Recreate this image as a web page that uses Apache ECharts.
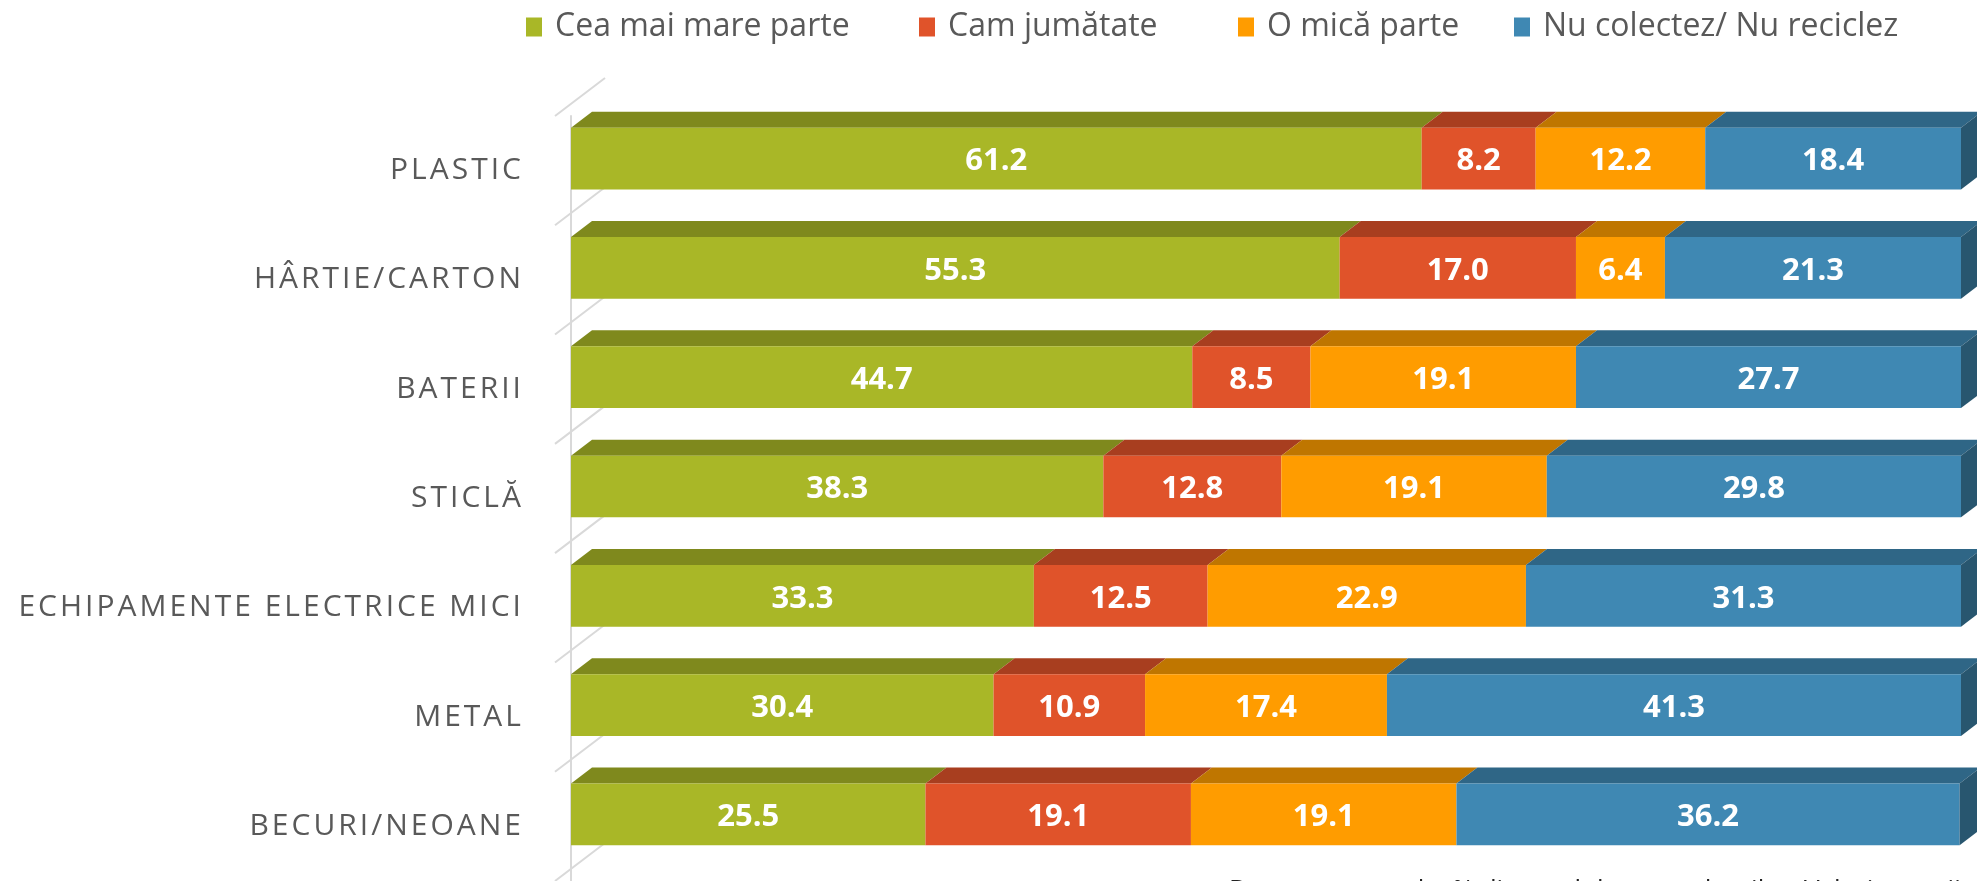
<!DOCTYPE html>
<html>
<head>
<meta charset="utf-8">
<script src="https://cdn.jsdelivr.net/npm/echarts@6/dist/echarts.min.js"></script>
<style>
  html, body { margin: 0; padding: 0; background: #fff; }
  #chart { width: 1977px; height: 881px; }
</style>
</head>
<body>
<div id="chart"></div>
<script>
// data (percentages)
const categories = ['PLASTIC', 'HÂRTIE/CARTON', 'BATERII', 'STICLĂ', 'ECHIPAMENTE ELECTRICE MICI', 'METAL', 'BECURI/NEOANE'];
const seriesNames = ['Cea mai mare parte', 'Cam jumătate', 'O mică parte', 'Nu colectez/ Nu reciclez'];
const mostPart = [61.2, 55.3, 44.7, 38.3, 33.3, 30.4, 25.5];
const halfPart = [8.2, 17.0, 8.5, 12.8, 12.5, 10.9, 19.1];
const smallPart = [12.2, 6.4, 19.1, 19.1, 22.9, 17.4, 19.1];
const noneRecycle = [18.4, 21.3, 27.7, 29.8, 31.3, 41.3, 36.2];
const footnote = 'Date procentuale, % din totalul respondenților. Valori rotunjite';

const frontColors = ['#a9b727', '#e0532a', '#ff9c00', '#3f88b3'];
const topColors = ['#7f891d', '#a83e1f', '#bf7600', '#2f6686'];
const sideColor = '#28566f';
const DX = 21, DY = 16; // 3d depth of the boxes

// the category labels are letter-spaced; echarts has no option for it,
// so add it on the canvas for the font used only by those labels
const origFill = CanvasRenderingContext2D.prototype.fillText;
CanvasRenderingContext2D.prototype.fillText = function (t, x, y, w) {
  if (!('letterSpacing' in this)) return origFill.call(this, t, x, y, w);
  const f = this.font;
  const spacing = f.indexOf('Lato') >= 0 ? '3px' : '0px';
  if (this.letterSpacing !== spacing) {
    this.letterSpacing = spacing;
    this.font = f;
  }
  origFill.call(this, t, x, y, w);
  if (spacing !== '0px') {
    this.letterSpacing = '0px';
    this.font = f;
  }
};

const chart = echarts.init(document.getElementById('chart'));

const allValues = [mostPart, halfPart, smallPart, noneRecycle];

// build [catIndex, start, end, value] rows for each stacked segment
const segData = allValues.map((vals, si) => vals.map((v, ci) => {
  let start = 0;
  for (let k = 0; k < si; k++) start += allValues[k][ci];
  return [ci, start, start + v, v];
}));

function makeRender(si) {
  const isLast = si === allValues.length - 1;
  return function (params, api) {
    const ci = api.value(0);
    const p0 = api.coord([api.value(1), ci]);
    const p1 = api.coord([api.value(2), ci]);
    const band = api.size([0, 1])[1];
    const h = band * 0.565;
    const cy = p0[1] - 12;
    const top = cy - h / 2, bot = cy + h / 2;
    const x0 = p0[0], x1 = p1[0];
    const children = [
      {
        type: 'polygon',
        shape: { points: [[x0, top], [x1, top], [x1 + DX, top - DY], [x0 + DX, top - DY]] },
        style: { fill: topColors[si] }
      },
      {
        type: 'rect',
        shape: { x: x0, y: top, width: x1 - x0, height: h },
        style: { fill: frontColors[si] }
      },
      {
        type: 'text',
        style: {
          text: api.value(3).toFixed(1),
          x: (x0 + x1) / 2, y: cy + 3,
          align: 'center', verticalAlign: 'middle',
          fill: '#fff', fontSize: 31, fontWeight: 'bold', fontFamily: 'Open Sans'
        }
      }
    ];
    if (isLast) {
      children.push({
        type: 'polygon',
        shape: { points: [[x1, top], [x1 + DX, top - DY], [x1 + DX, bot - DY], [x1, bot]] },
        style: { fill: sideColor }
      });
    }
    return { type: 'group', children: children };
  };
}

// diagonal lines of the left wall, one per category boundary
function renderWall(params, api) {
  const ci = api.value(0);
  const c = api.coord([0, ci]);
  const band = api.size([0, 1])[1];
  const x = c[0] - 16;
  const lines = [c[1] - band / 2];
  if (ci === categories.length - 1) lines.push(c[1] + band / 2);
  return {
    type: 'group',
    children: lines.map(y => ({
      type: 'line',
      shape: { x1: x, y1: y, x2: x + 50, y2: y - 38 },
      style: { stroke: '#d9d9d9', lineWidth: 2 }
    }))
  };
}

const legendLefts = [521, 914, 1233, 1509];

const series = allValues.map((vals, si) => ({
  name: seriesNames[si],
  type: 'custom',
  renderItem: makeRender(si),
  encode: { x: [1, 2], y: 0 },
  itemStyle: { color: frontColors[si] },
  data: segData[si],
  clip: false,
  z: 3
}));
series.unshift({
  type: 'custom',
  name: 'wall',
  renderItem: renderWall,
  encode: { x: 1, y: 0 },
  data: categories.map((c, i) => [i, 0]),
  clip: false,
  silent: true,
  z: 1
});

chart.setOption({
  animation: false,
  legend: seriesNames.map((n, i) => ({
    data: [n],
    left: legendLefts[i],
    top: 6,
    icon: 'rect',
    itemWidth: 16,
    itemHeight: 19,
    selectedMode: false,
    textStyle: { color: '#595959', fontSize: 32, fontFamily: 'Open Sans', padding: [0, 0, 0, 8] }
  })),
  grid: { left: 571, right: 16, top: 116, bottom: -3, containLabel: false },
  xAxis: { type: 'value', min: 0, max: 100, show: false },
  yAxis: {
    type: 'category',
    data: categories,
    inverse: true,
    offset: 16,
    axisLine: { show: true, lineStyle: { color: '#d9d9d9', width: 2 } },
    axisTick: { show: false },
    splitLine: { show: false },
    axisLabel: { margin: 31, color: '#595959', fontSize: 30, fontFamily: "'Open Sans', Lato" }
  },
  graphic: [{
    type: 'text',
    left: 1229,
    top: 878,
    style: { text: footnote, fill: '#222', fontSize: 26, fontFamily: 'Open Sans' }
  }],
  series: series
});
</script>
</body>
</html>
